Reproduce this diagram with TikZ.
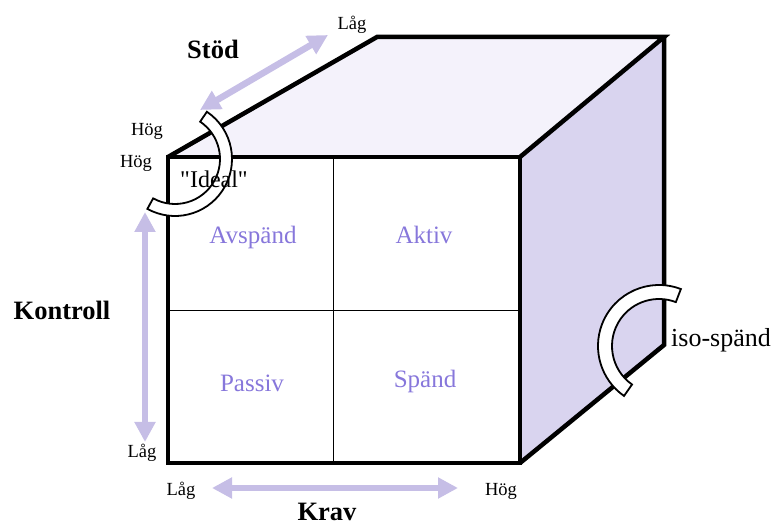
\documentclass[tikz,border=0pt]{standalone}
\usepackage{fontspec}
\setmainfont{Liberation Serif}
\newfontfamily\plainserif{Liberation Serif}[Ligatures=TeXOff]
\usetikzlibrary{arrows.meta,calc}
\definecolor{lav}{RGB}{198,190,230}
\definecolor{topf}{RGB}{244,242,251}
\definecolor{sidef}{RGB}{217,212,239}
\definecolor{txtp}{RGB}{135,119,219}
\begin{document}
\begin{tikzpicture}[x=1pt,y=1pt,
  edge/.style={line width=4.5pt, line join=miter},
  divider/.style={line width=1pt},
  dblarrow/.style={lav, line width=6.5pt, {Triangle[width=20pt,length=20pt]}-{Triangle[width=20pt,length=20pt]}},
  band/.style={fill=white, draw=black, line width=1.8pt, line join=miter},
  cell/.style={txtp, font=\fontsize{25}{30}\selectfont, anchor=base, inner sep=0pt},
  axislbl/.style={font=\bfseries\fontsize{26.5}{30}\selectfont, anchor=base, inner sep=0pt},
  small/.style={font=\fontsize{18.5}{22}\selectfont, anchor=base, inner sep=0pt},
]
\useasboundingbox (0,0) rectangle (774,525);
% cube corners
\coordinate (FTL) at (168,368);
\coordinate (FTR) at (520,368);
\coordinate (FBR) at (520,62);
\coordinate (FBL) at (168,62);
\coordinate (BTL) at (377,488);
\coordinate (BTR) at (664,488);
\coordinate (BBR) at (664,180);
\coordinate (MT) at (333,368);
\coordinate (MB) at (333,62);
\coordinate (ML) at (168,214);
\coordinate (MR) at (520,214);
% faces
\fill[topf] (FTL) -- (BTL) -- (BTR) -- (FTR) -- cycle;
\fill[sidef] (FTR) -- (BTR) -- (BBR) -- (FBR) -- cycle;
\draw[divider] (MT) -- (MB);
\draw[divider] (ML) -- (MR);
\draw[edge] (FTL) rectangle (FBR);
\draw[edge] (FTL) -- (BTL) -- (BTR) -- (FTR);
\draw[edge] (BTR) -- (BBR) -- (FBR);
% axis arrows
\coordinate (S1) at (200,415);
\coordinate (S2) at (328,490);
\coordinate (K1) at (145,313);
\coordinate (K2) at (145,83);
\coordinate (R1) at (212,37);
\coordinate (R2) at (458,37);
\draw[dblarrow] (S1) -- (S2);
\draw[dblarrow] (K1) -- (K2);
\draw[dblarrow] (R1) -- (R2);
% curved bands
\coordinate (IC) at (175,366);
\coordinate (SC) at (659,179);
\draw[band] ($(IC)+(56:57)$) arc[start angle=56, end angle=-119, radius=57]
  -- ($(IC)+(-119:45)$) arc[start angle=-119, end angle=56, radius=45] -- cycle;
\draw[band] ($(SC)+(69:61)$) arc[start angle=69, end angle=235, radius=61]
  -- ($(SC)+(235:47)$) arc[start angle=235, end angle=69, radius=47] -- cycle;
% cell labels
\node[cell] (avs) at (253,281) {Avspänd};
\node[cell] (akt) at (424,281) {Aktiv};
\node[cell] (pas) at (252,133) {Passiv};
\node[cell] (spa) at (425,137) {Spänd};
% axis labels
\node[axislbl] (stod) at (213,466) {Stöd};
\node[axislbl] (kon) at (62,205) {Kontroll};
\node[axislbl] (krav) at (327,5) {Krav};
\node[small] (slag) at (352,495) {Låg};
\node[small] (shog) at (147,389) {Hög};
\node[small] (khog) at (136,357) {Hög};
\node[small] (klag) at (142,67) {Låg};
\node[small] (rlag) at (181,30) {Låg};
\node[small] (rhog) at (501,30) {Hög};
\node[font=\plainserif\fontsize{24}{28}\selectfont, anchor=base, inner sep=0pt] (ideal) at (214,337) {"Ideal"};
\node[font=\fontsize{26}{28}\selectfont, anchor=base west, inner sep=0pt] (iso) at (671,178) {iso-spänd};
\end{tikzpicture}
\end{document}
